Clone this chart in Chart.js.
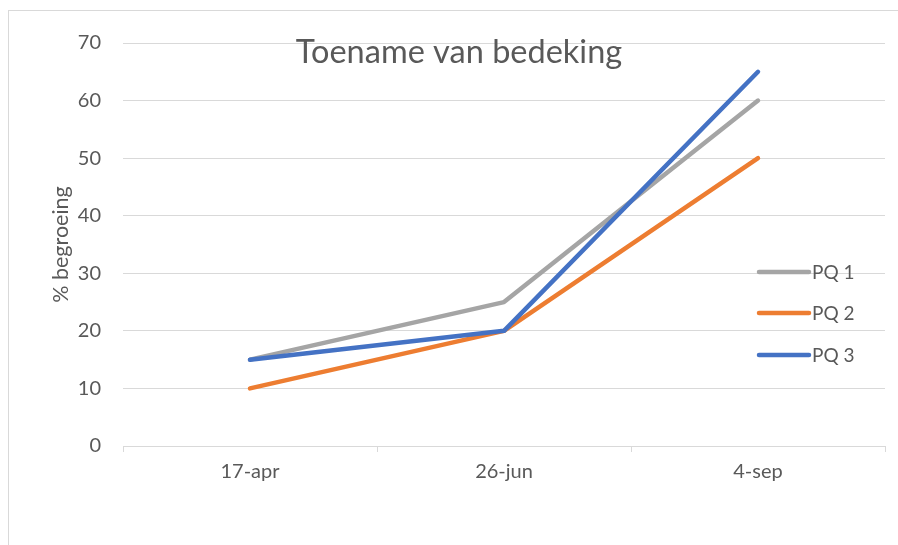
<!DOCTYPE html>
<html><head><meta charset="utf-8">
<script src="https://cdn.jsdelivr.net/npm/chart.js@4/dist/chart.umd.min.js"></script>
<style>html,body{margin:0;padding:0;background:#fff}canvas{display:block}</style>
</head><body>
<canvas id="c" width="898" height="545"></canvas>
<script>
const categories = ['17-apr', '26-jun', '4-sep'];
const pq1 = [15, 25, 60];
const pq2 = [10, 20, 50];
const pq3 = [15, 20, 65];
const seriesNames = ['PQ 1', 'PQ 2', 'PQ 3'];
const seriesColors = ['#A5A5A5', '#ED7D31', '#4472C4'];
const chartTitle = 'Toename van bedeking';
const yTitle = '% begroeing';
const FONT = 'Lato, "Open Sans", sans-serif';

const decor = {
  id: 'decor',
  beforeDraw(chart) {
    const ctx = chart.ctx;
    ctx.save();
    ctx.fillStyle = '#fff';
    ctx.fillRect(0, 0, chart.width, chart.height);
    ctx.strokeStyle = '#d9d9d9';
    ctx.lineWidth = 1;
    ctx.strokeRect(8.5, 10.5, 1200, 1200);
    ctx.restore();
  },
  afterDraw(chart) {
    const ctx = chart.ctx;
    const ca = chart.chartArea;
    ctx.save();
    ctx.fillStyle = '#595959';
    ctx.font = '32.5px ' + FONT;
    ctx.textAlign = 'center';
    ctx.textBaseline = 'middle';
    ctx.fillText(chartTitle, 459, 53);
    ctx.save();
    ctx.translate(61, (ca.top + ca.bottom) / 2);
    ctx.rotate(-Math.PI / 2);
    ctx.font = '21.5px ' + FONT;
    ctx.fillText(yTitle, 0, 0);
    ctx.restore();
    ctx.font = '19px ' + FONT;
    ctx.textAlign = 'left';
    ctx.lineCap = 'round';
    ctx.lineWidth = 4.5;
    const ys = [272, 313, 355];
    seriesNames.forEach((n, i) => {
      ctx.strokeStyle = seriesColors[i];
      ctx.beginPath();
      ctx.moveTo(759, ys[i]);
      ctx.lineTo(809, ys[i]);
      ctx.stroke();
      ctx.fillStyle = '#595959';
      ctx.fillText(n, 812, ys[i] + 1);
    });
    ctx.restore();
  }
};

const mk = (i, data) => ({
  label: seriesNames[i], data,
  borderColor: seriesColors[i], backgroundColor: seriesColors[i],
  borderWidth: 4.5, pointRadius: 0, tension: 0,
  borderCapStyle: 'round', borderJoinStyle: 'round',
  order: 3 - i
});

new Chart(document.getElementById('c'), {
  type: 'line',
  data: { labels: categories, datasets: [mk(0, pq1), mk(1, pq2), mk(2, pq3)] },
  options: {
    responsive: false, animation: false,
    layout: { padding: { left: 0, right: 13, top: 43, bottom: 0 } },
    plugins: { legend: { display: false }, tooltip: { enabled: false }, title: { display: false } },
    scales: {
      x: {
        offset: true,
        grid: { offset: true, drawOnChartArea: false, drawTicks: true, tickLength: 6, color: '#d9d9d9' },
        border: { display: true, color: '#d9d9d9', width: 1 },
        ticks: { color: '#595959', font: { family: FONT, size: 20 }, padding: 8, maxRotation: 0 },
        afterFit(s) { s.height = 99; }
      },
      y: {
        min: 0, max: 70,
        grid: { color: '#d9d9d9', drawTicks: false, lineWidth: 1 },
        border: { display: false },
        ticks: { stepSize: 10, color: '#595959', font: { family: FONT, size: 20 }, padding: 22 },
        afterFit(s) { s.width = 123; }
      }
    }
  },
  plugins: [decor]
});
</script>
</body></html>
